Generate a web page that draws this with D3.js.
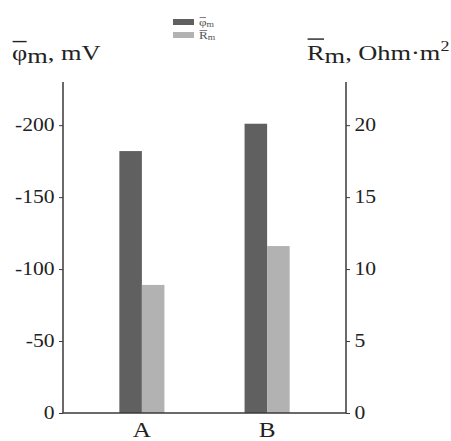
<!DOCTYPE html>
<html>
<head>
<meta charset="utf-8">
<script src="https://cdn.jsdelivr.net/npm/d3@7"></script>
<style>
  body { margin: 0; background: #fff; }
  text { font-family: "Liberation Serif", "Times New Roman", serif; fill: #222; }
</style>
</head>
<body>
<script>
var width = 451,
  height = 441;

var categories = ["A", "B"];
var phiValues = [-182, -201];
var rValues = [8.9, 11.6];
var leftTicks = [0, -50, -100, -150, -200];
var rightTicks = [0, 5, 10, 15, 20];

var darkColor = "#606060",
  lightColor = "#b2b2b2",
  axisColor = "#3a3a3a";

// the reference text is a little wider than the font, so stretch it
var stretch = 1.2;

var margin = {left: 63, right: 346, top: 82, bottom: 413};

var x = d3.scaleBand()
  .domain(categories)
  .range([margin.left, margin.right])
  .paddingInner(0.64)
  .paddingOuter(0.45);

var xSub = d3.scaleBand()
  .domain(["phi", "r"])
  .range([0, x.bandwidth()]);

var yLeft = d3.scaleLinear()
  .domain([0, -230])
  .range([margin.bottom, margin.top]);

var yRight = d3.scaleLinear()
  .domain([0, 23])
  .range([margin.bottom, margin.top]);

var svg = d3.select("body").append("svg")
  .attr("width", width)
  .attr("height", height);

// bars
var groups = svg.selectAll(".group")
  .data(categories)
  .enter().append("g")
    .attr("class", "group")
    .attr("transform", function(d) { return "translate(" + x(d) + ",0)"; });

groups.append("rect")
  .attr("x", xSub("phi"))
  .attr("width", xSub.bandwidth())
  .attr("y", function(d, i) { return yLeft(phiValues[i]); })
  .attr("height", function(d, i) { return yLeft(0) - yLeft(phiValues[i]); })
  .attr("fill", darkColor);

groups.append("rect")
  .attr("x", xSub("r"))
  .attr("width", xSub.bandwidth())
  .attr("y", function(d, i) { return yRight(rValues[i]); })
  .attr("height", function(d, i) { return yRight(0) - yRight(rValues[i]); })
  .attr("fill", lightColor);

// axes
var leftAxis = d3.axisLeft(yLeft)
  .tickValues(leftTicks)
  .tickSize(4)
  .tickPadding(3)
  .tickFormat(function(d) { return String(d); });

var rightAxis = d3.axisRight(yRight)
  .tickValues(rightTicks)
  .tickSize(4)
  .tickPadding(3)
  .tickFormat(function(d) { return String(d); });

function styleAxis(g) {
  g.select(".domain").remove();
  g.selectAll(".tick line").attr("stroke", axisColor);
  g.selectAll(".tick text")
    .attr("font-family", null)
    .attr("font-size", "18px")
    .attr("fill", "#222")
    .attr("transform", "scale(" + stretch + ",1)");
}

svg.append("g")
  .attr("transform", "translate(" + margin.left + ",0)")
  .call(leftAxis)
  .call(styleAxis);

svg.append("g")
  .attr("transform", "translate(" + margin.right + ",0)")
  .call(rightAxis)
  .call(styleAxis);

// frame lines (left, bottom, right)
svg.append("path")
  .attr("d", "M" + margin.left + "," + margin.top + "V" + margin.bottom +
    "H" + margin.right + "V" + margin.top)
  .attr("fill", "none")
  .attr("stroke", axisColor)
  .attr("stroke-width", 1.5);

// category labels
svg.selectAll(".cat")
  .data(categories)
  .enter().append("g")
    .attr("class", "cat")
    .attr("transform", function(d) {
      return "translate(" + (x(d) + x.bandwidth() / 2) + ",437) scale(" + stretch + ",1)";
    })
  .append("text")
    .attr("text-anchor", "middle")
    .attr("font-size", "21px")
    .text(function(d) { return d; });

// label group with horizontal stretch; overline drawn over first char
function label(px, py) {
  return svg.append("g")
    .attr("transform", "translate(" + px + "," + py + ") scale(" + stretch + ",1)");
}

function overline(g, t, offset, w, color) {
  var box = t.node().getExtentOfChar(0);
  g.append("line")
    .attr("x1", box.x + 0.5)
    .attr("x2", box.x + box.width - 0.5)
    .attr("y1", box.y + offset)
    .attr("y2", box.y + offset)
    .attr("stroke", color)
    .attr("stroke-width", w);
}

// axis titles
var leftG = label(12, 60);
var leftTitle = leftG.append("text").attr("font-size", "22px");
leftTitle.append("tspan").text("φ");
leftTitle.append("tspan").attr("dy", 3).text("m");
leftTitle.append("tspan").attr("dy", -3).text(", mV");
overline(leftG, leftTitle, 1.5, 1.4, "#222");

var rightG = label(307, 60);
var rightTitle = rightG.append("text").attr("font-size", "22px");
rightTitle.append("tspan").text("R");
rightTitle.append("tspan").attr("dy", 3).text("m");
rightTitle.append("tspan").attr("dy", -3).text(", Ohm·m");
rightTitle.append("tspan").attr("font-size", "15px").attr("dy", -9).text("2");
overline(rightG, rightTitle, -1, 1.4, "#222");

// legend
var legendItems = [
  {label: "φ", color: darkColor},
  {label: "R", color: lightColor}
];

var legend = svg.selectAll(".legend")
  .data(legendItems)
  .enter().append("g")
    .attr("class", "legend")
    .attr("transform", function(d, i) { return "translate(173," + (19 + i * 13) + ")"; });

legend.append("rect")
  .attr("width", 21)
  .attr("height", 6)
  .attr("fill", function(d) { return d.color; });

legend.each(function(d) {
  var g = d3.select(this).append("g")
    .attr("transform", "translate(26,7) scale(" + stretch + ",1)");
  var t = g.append("text")
    .attr("font-size", "11px")
    .style("fill", "#555");
  t.append("tspan").text(d.label);
  t.append("tspan").attr("font-size", "8px").attr("dy", 1).text("m");
  overline(g, t, 1.5, 0.7, "#555");
});
</script>
</body>
</html>
